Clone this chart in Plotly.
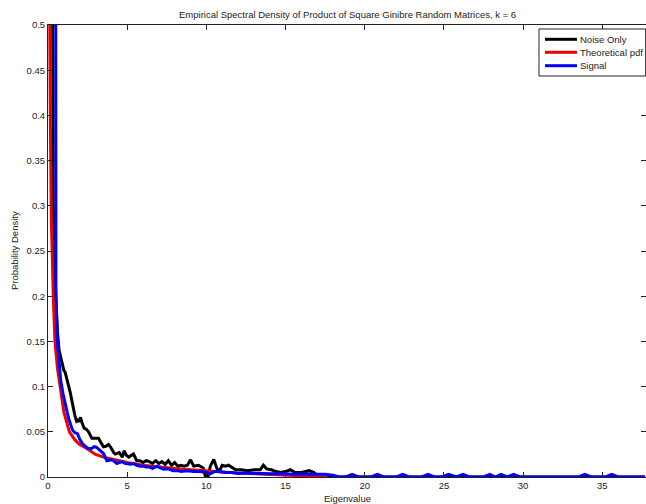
import plotly.graph_objects as go

# ---------------- data ----------------
noise_x = [0.18, 0.27, 0.33, 0.42, 0.5, 0.6, 0.7, 0.85, 1.0, 1.08, 1.2, 1.29, 1.4, 1.5, 1.6,
           1.71, 1.8, 1.86, 1.95, 2.05, 2.15, 2.28, 2.4, 2.56, 2.77, 3.0, 3.19, 3.35, 3.5,
           3.65, 3.82, 3.95, 4.04, 4.15, 4.25, 4.5, 4.7, 4.8, 4.95, 5.1, 5.4, 5.6, 5.8, 6.0,
           6.2, 6.4, 6.6, 6.8, 7.0, 7.2, 7.4, 7.6, 7.8, 8.0, 8.2, 8.4, 8.6, 8.8, 9.0, 9.2,
           9.5, 9.8, 9.95, 10.1, 10.25, 10.47, 10.65, 10.8, 11.0, 11.2, 11.4, 11.6, 11.85,
           12.2, 12.6, 13.0, 13.4, 13.6, 13.8, 14.1, 14.4, 14.7, 15.0, 15.3, 15.6, 16.0,
           16.5, 16.8, 17.1, 37.7]
noise_y = [1.2, 0.5, 0.3, 0.22, 0.19, 0.16, 0.14, 0.128, 0.118, 0.116, 0.108, 0.103, 0.094,
           0.085, 0.075, 0.067, 0.062, 0.063, 0.061, 0.066, 0.06, 0.054, 0.053, 0.05, 0.043,
           0.043, 0.043, 0.038, 0.0335, 0.034, 0.036, 0.033, 0.03, 0.027, 0.0254, 0.027,
           0.022, 0.029, 0.024, 0.022, 0.0254, 0.018, 0.018, 0.016, 0.018, 0.017, 0.015,
           0.018, 0.015, 0.017, 0.014, 0.018, 0.013, 0.016, 0.012, 0.013, 0.012, 0.013,
           0.019, 0.012, 0.013, 0.01, 0.0, 0.0, 0.012, 0.0195, 0.01, 0.006, 0.013, 0.012,
           0.013, 0.011, 0.008, 0.008, 0.007, 0.008, 0.008, 0.013, 0.009, 0.008, 0.006,
           0.005, 0.006, 0.008, 0.005, 0.005, 0.007, 0.005, 0.0, 0.0]

theory_x = [0.03, 0.06, 0.11, 0.15, 0.21, 0.34, 0.44, 0.6, 0.76, 1.0, 1.35, 1.7, 2.0, 2.4,
            3.0, 3.5, 4.0, 5.0, 6.0, 7.0, 8.0, 9.0, 10.0, 11.0, 12.0, 13.0, 14.0, 15.0,
            16.0, 17.0, 17.4, 17.65]
theory_y = [1.6, 0.9, 0.5, 0.39, 0.284, 0.196, 0.15, 0.12, 0.1, 0.072, 0.05, 0.041, 0.036,
            0.032, 0.025, 0.022, 0.02, 0.016, 0.013, 0.011, 0.0095, 0.008, 0.0065, 0.0055,
            0.0045, 0.0038, 0.003, 0.0024, 0.0017, 0.001, 0.0005, 0.0]

signal_x = [0.45, 0.5, 0.59, 0.7, 0.8, 0.95, 1.12, 1.3, 1.54, 1.7, 1.86, 2.0, 2.17, 2.35,
            2.49, 2.7, 2.92, 3.05, 3.23, 3.5, 3.72, 3.9, 4.04, 4.2, 4.35, 4.5, 4.67, 4.85,
            5.0, 5.2, 5.4, 5.6, 5.8, 6.0, 6.2, 6.4, 6.6, 6.9, 7.1, 7.3, 7.6, 7.9, 8.2, 8.4,
            8.8, 9.2, 9.6, 10.0, 10.2, 10.5, 10.8, 11.2, 11.6, 12.0, 12.5, 13.0, 13.5, 14.0,
            14.5, 15.0, 15.5, 16.0, 16.5, 17.0, 17.5, 18.0, 18.4, 18.8, 19.2, 19.6, 20.4,
            20.8, 21.2, 22.0, 22.4, 22.8, 23.6, 24.0, 24.4, 24.9, 25.3, 25.7, 25.8, 26.2,
            26.6, 27.5, 27.9, 28.25, 28.6, 29.0, 29.4, 29.8, 33.5, 33.9, 34.3, 35.2, 35.6,
            36.0, 37.7]
signal_y = [1.5, 0.21, 0.151, 0.125, 0.107, 0.092, 0.078, 0.065, 0.052, 0.049, 0.048, 0.042,
            0.037, 0.034, 0.032, 0.031, 0.0335, 0.033, 0.03, 0.026, 0.018, 0.019, 0.019,
            0.017, 0.015, 0.016, 0.017, 0.015, 0.0144, 0.014, 0.015, 0.013, 0.012, 0.012,
            0.011, 0.011, 0.0096, 0.012, 0.01, 0.0085, 0.009, 0.007, 0.007, 0.006, 0.007,
            0.006, 0.006, 0.005, 0.0033, 0.006, 0.006, 0.005, 0.005, 0.004, 0.0045, 0.004,
            0.004, 0.0035, 0.004, 0.0035, 0.003, 0.0035, 0.003, 0.003, 0.003, 0.002, 0.0,
            0.0, 0.003, 0.0, 0.0, 0.003, 0.0, 0.0, 0.003, 0.0, 0.0, 0.003, 0.0, 0.0, 0.003,
            0.0, 0.0, 0.003, 0.0, 0.0, 0.003, 0.0, 0.003, 0.0, 0.003, 0.0, 0.0, 0.003, 0.0,
            0.0, 0.003, 0.0, 0.0]

series_names = ["Noise Only", "Theoretical pdf", "Signal"]
series_colors = ["#000000", "#ee0000", "#0000ff"]

x_ticks = [0, 5, 10, 15, 20, 25, 30, 35]
y_ticks = [0, 0.05, 0.1, 0.15, 0.2, 0.25, 0.3, 0.35, 0.4, 0.45, 0.5]
y_tick_labels = ["0", "0.05", "0.1", "0.15", "0.2", "0.25", "0.3", "0.35", "0.4", "0.45", "0.5"]

title_text = "Empirical Spectral Density of Product of Square Ginibre Random Matrices, k = 6"

# ---------------- figure ----------------
FONT = "Liberation Sans, Arial, sans-serif"
FS = 9.5
TXT = "#222222"
fig = go.Figure()
for xs, ys, nm, col in zip([noise_x, theory_x, signal_x], [noise_y, theory_y, signal_y],
                           series_names, series_colors):
    fig.add_trace(go.Scatter(x=xs, y=ys, mode="lines", name=nm,
                             line=dict(color=col, width=3)))

axis_common = dict(showgrid=False, zeroline=False, showline=True, linecolor=TXT,
                   linewidth=1, mirror="ticks", ticks="inside", ticklen=5, tickwidth=1,
                   tickcolor=TXT, tickfont=dict(family=FONT, size=FS, color=TXT))

# MATLAB-style compact legend box (top-right, inside the axes)
PLOT_W, PLOT_H = 598.0, 452.0
box_x0, box_x1 = 1 - 107 / PLOT_W, 0.9995
box_y1, box_y0 = 1 - 4 / PLOT_H, 1 - 51 / PLOT_H
line_x0, line_x1 = 1 - 101 / PLOT_W, 1 - 69 / PLOT_W
text_x = 1 - 68 / PLOT_W
row_offsets = [14.3, 27.3, 40.7]

shapes = [dict(type="rect", xref="paper", yref="paper", x0=box_x0, x1=box_x1,
               y0=box_y0, y1=box_y1, line=dict(color=TXT, width=1), fillcolor="white",
               layer="above")]
annotations = []
for nm, col, off in zip(series_names, series_colors, row_offsets):
    yy = 1 - off / PLOT_H
    shapes.append(dict(type="line", xref="paper", yref="paper", x0=line_x0, x1=line_x1,
                       y0=yy, y1=yy, line=dict(color=col, width=3), layer="above"))
    annotations.append(dict(text=nm, x=text_x, y=yy, xref="paper", yref="paper",
                            xanchor="left", yanchor="middle", showarrow=False,
                            font=dict(family=FONT, size=FS, color=TXT)))

annotations += [
    dict(text=title_text, x=0.5, y=1, xref="paper", yref="paper", xanchor="center",
         yanchor="middle", yshift=11, showarrow=False,
         font=dict(family=FONT, size=FS, color=TXT)),
    dict(text="Eigenvalue", x=0.5, y=0, xref="paper", yref="paper", xanchor="center",
         yanchor="middle", yshift=-21, showarrow=False,
         font=dict(family=FONT, size=FS, color=TXT)),
    dict(text="Probability Density", x=0, y=0.5, xref="paper", yref="paper",
         xanchor="center", yanchor="middle", xshift=-34, textangle=-90, showarrow=False,
         font=dict(family=FONT, size=FS, color=TXT)),
]

fig.update_layout(
    width=646, height=504,
    margin=dict(l=48, r=0, t=25, b=27),
    paper_bgcolor="white", plot_bgcolor="white",
    font=dict(family=FONT, size=FS, color=TXT),
    showlegend=False,
    xaxis=dict(range=[0, 37.76], tickvals=x_ticks, **axis_common),
    yaxis=dict(range=[0, 0.5], tickvals=y_ticks, ticktext=y_tick_labels, **axis_common),
    shapes=shapes,
    annotations=annotations,
)

fig.write_html("out.html")
